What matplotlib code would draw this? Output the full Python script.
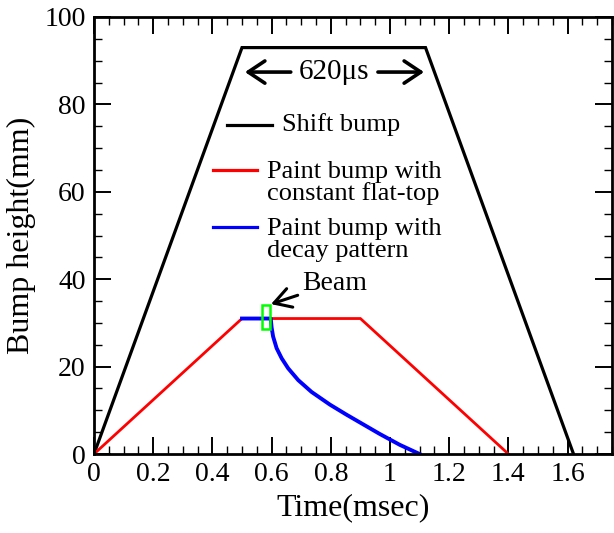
import matplotlib

matplotlib.use("Agg")

import matplotlib.pyplot as plt
from matplotlib.patches import Rectangle
from matplotlib.ticker import MultipleLocator

# shift bump (black trapezoid)
shift_t = [0.0, 0.5, 1.12, 1.62]
shift_y = [0.0, 93.0, 93.0, 0.0]

# paint bump with constant flat-top (red)
flat_t = [0.0, 0.5, 0.9, 1.4]
flat_y = [0.0, 31.0, 31.0, 0.0]

# paint bump with decay pattern (blue)
decay_t = [0.5, 0.597, 0.600, 0.605, 0.617, 0.634, 0.656, 0.690, 0.735,
           0.797, 0.853, 0.909, 0.965, 1.033, 1.1]
decay_y = [31.0, 31.0, 29.0, 26.9, 24.2, 21.9, 19.6, 16.9, 14.2,
           11.3, 9.0, 6.8, 4.6, 2.1, 0.0]

# beam marker box (x0, y0, width, height) in data units
beam_box = (0.568, 28.5, 0.026, 5.6)

legend_labels = [
    "Shift bump",
    "Paint bump with\nconstant flat-top",
    "Paint bump with\ndecay pattern",
]

plt.rcParams.update(
    {
        "font.family": "Liberation Serif",
        "axes.linewidth": 2.0,
        "xtick.direction": "in",
        "ytick.direction": "in",
        "xtick.top": True,
        "ytick.right": True,
        "xtick.major.size": 12,
        "ytick.major.size": 12,
        "xtick.minor.size": 6,
        "ytick.minor.size": 6,
        "xtick.major.width": 1.4,
        "ytick.major.width": 1.4,
        "xtick.minor.width": 1.0,
        "ytick.minor.width": 1.0,
        "xtick.major.pad": 6,
        "ytick.major.pad": 6,
    }
)

fig = plt.figure(figsize=(6.14, 5.33), dpi=100)
ax = fig.add_axes([94 / 614, 1 - 454 / 533, (612 - 94) / 614, (454 - 17) / 533])

ax.plot(shift_t, shift_y, color="black", lw=2.3, solid_joinstyle="miter")
ax.plot(flat_t, flat_y, color="#ff0000", lw=2.0, solid_joinstyle="miter")
ax.plot(decay_t, decay_y, color="#0000ff", lw=2.8, solid_joinstyle="round")

x0, y0, w, h = beam_box
ax.add_patch(Rectangle((x0, y0), w, h, fill=False, edgecolor="#00ff00", lw=1.8, zorder=5))

ax.annotate(
    "Beam",
    xy=(x0 + w + 0.004, y0 + h + 0.2),
    xytext=(0.702, 39.1),
    fontsize=20,
    ha="left",
    va="center",
    arrowprops={
        "arrowstyle": "->,head_length=0.6,head_width=0.35",
        "lw": 2.2,
        "color": "black",
        "shrinkA": 1,
        "shrinkB": 0,
        "mutation_scale": 20,
    },
)

# 620 us double arrow
for tip, col in [(0.51, "black"), (1.115, "none")]:
    ax.annotate(
        "620μs",
        xy=(tip, 87.4),
        xytext=(0.812, 87.4),
        fontsize=21,
        color=col,
        ha="center",
        va="center",
        arrowprops={
            "arrowstyle": "->,head_length=0.6,head_width=0.4",
            "lw": 2.6,
            "color": "black",
            "shrinkA": 4,
            "shrinkB": 0,
            "mutation_scale": 20,
        },
    )

# hand-placed legend in axes fraction
leg = [
    ((227, 272), 125, "black", 282, 125),
    ((213, 257), 170, "#ff0000", 267, 183),
    ((213, 257), 227, "#0000ff", 267, 240),
]
for (label, ((lx0, lx1), ly, col, tx, ty)) in zip(legend_labels, leg):
    fx0 = (lx0 - 94) / 518
    fx1 = (lx1 - 94) / 518
    fy = (454 - ly) / 437
    ax.plot([fx0, fx1], [fy, fy], color=col, lw=2.3, transform=ax.transAxes)
    ax.text((tx - 94) / 518, (454 - ty) / 437, label, transform=ax.transAxes,
            fontsize=19, ha="left", va="center", linespacing=0.95)

ax.set_xlim(0, 1.75)
ax.set_ylim(0, 100)
ax.xaxis.set_minor_locator(MultipleLocator(0.05))
ax.yaxis.set_major_locator(MultipleLocator(20))
ax.yaxis.set_minor_locator(MultipleLocator(5))
ax.set_xticks([0, 0.2, 0.4, 0.6, 0.8, 1.0, 1.2, 1.4, 1.6])
ax.set_xticklabels(["0", "0.2", "0.4", "0.6", "0.8", "1", "1.2", "1.4", "1.6"])
ax.tick_params(labelsize=20)
ax.set_xlabel("Time(msec)", fontsize=23, labelpad=4)
ax.set_ylabel("Bump height(mm)", fontsize=23, labelpad=6)

fig.savefig("out.png", dpi=100)
